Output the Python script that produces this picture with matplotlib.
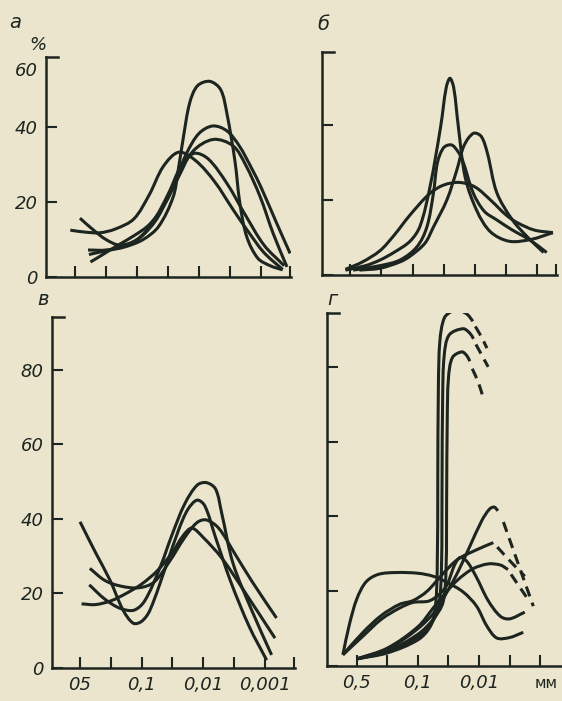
import numpy as np
import matplotlib
matplotlib.use("Agg")
import matplotlib.pyplot as plt
from matplotlib.path import Path
from matplotlib.patches import PathPatch

# ---------------- data (x = fraction index: 0.5,0.25,0.1,0.05,0.01,0.005,0.001 mm -> 0..6) -------------
A1 = [(-0.15,12.5),(0.3,12),(0.8,11.8),(1.3,12.8),(1.9,15.5),(2.4,22),(2.85,29.5),(3.35,33.3),(3.9,31),(4.5,25.5),(5.1,18),(5.6,12),(6.1,6.5),(6.7,2)]
A2 = [(0.16,15.7),(0.6,12.5),(1.0,10),(1.45,8.5),(2.0,10),(2.5,14.5),(3.0,22),(3.45,30),(3.85,33),(4.3,31.5),(4.9,25),(5.5,16.5),(6.1,8.5),(6.75,3)]
A3 = [(0.42,7.2),(1.0,7.2),(1.6,8.3),(2.1,10.5),(2.6,15),(2.96,20.5),(3.3,27),(3.6,33),(4.0,38.3),(4.45,40.3),(4.9,39),(5.3,35),(5.7,29),(6.0,24),(6.5,14.5),(6.94,6.3)]
A4 = [(0.5,4),(0.9,6),(1.35,8.3),(1.9,11),(2.4,14),(2.9,19.5),(3.3,26),(3.8,33.5),(4.46,36.7),(5.1,35),(5.5,30),(5.97,21.5),(6.4,11.5),(6.84,2.7)]
A5 = [(0.45,6),(1.0,7),(1.6,8),(2.2,10),(2.7,13.5),(3.17,21.4),(3.33,28.5),(3.5,37.4),(3.7,46.4),(3.95,51),(4.35,52.2),(4.7,50),(4.9,43.7),(5.16,31),(5.32,19.7),(5.54,10.8),(5.9,5),(6.3,3),(6.7,1.9)]

B1 = [(-0.15,1.3),(0.5,2.5),(0.96,4),(1.4,6),(1.92,9),(2.24,13),(2.56,23.5),(2.9,39.5),(3.08,50),(3.2,52.5),(3.32,50),(3.47,39.5),(3.69,26),(4.07,17),(4.5,11.5),(5.1,9),(5.8,9.5),(6.5,11.3)]
B2 = [(0.1,1.3),(0.96,2.5),(1.6,4),(2.14,7.5),(2.46,12.8),(2.67,21.8),(2.8,30),(3.0,34),(3.25,34.7),(3.45,33),(3.6,30.7),(3.95,21.8),(4.3,17),(4.7,14.7),(5.2,12),(5.77,9.3),(6.3,6)]
B3 = [(0.3,1.3),(0.96,1.8),(1.6,3.5),(1.92,5),(2.4,8.5),(2.67,12.8),(3.1,20),(3.42,28),(3.65,34.5),(3.95,37.8),(4.2,37),(4.4,32.5),(4.7,22),(5.2,14.7),(5.7,10),(6.2,6)]
B4 = [(-0.15,1.5),(0.4,3.5),(0.96,6.5),(1.4,10.5),(1.92,16),(2.56,21.8),(3.0,24),(3.5,24.7),(4.0,23.5),(4.5,20),(5.0,16),(5.35,14),(5.9,12),(6.5,11.3)]

V1 = [(0,39.2),(0.5,31),(0.97,23.6),(1.4,15.5),(1.73,12),(2.0,12.5),(2.27,15.5),(2.82,28),(3.2,37),(3.5,42.5),(3.8,45),(4.05,43.5),(4.4,35),(4.9,23),(5.5,11),(6.06,2.1)]
V2 = [(0.3,22.3),(0.8,18.5),(1.3,16),(1.75,15.5),(2.1,18),(2.6,27),(3.0,36),(3.4,44),(3.8,49),(4.1,49.7),(4.4,48),(4.6,41.5),(4.97,28),(5.6,15),(6.22,3.5)]
V3 = [(0.32,26.7),(0.8,23.5),(1.3,22),(1.9,21.5),(2.4,23),(2.9,28.5),(3.4,35),(3.8,39),(4.1,39.7),(4.5,37.5),(5.0,31),(5.6,23),(6.38,13.4)]
V4 = [(0.05,17.2),(0.5,17),(1.0,18),(1.5,20),(2.0,22.5),(2.5,26),(3.0,31),(3.35,35.5),(3.63,37.5),(4.0,35),(4.6,29.5),(5.3,21),(6.33,8)]

G_T1 = [(0,1.9),(1,3.5),(2,7),(2.4,10.5),(2.56,15),(2.63,25),(2.65,50),(2.67,75),(2.72,87),(2.86,93),(3.1,94.8),(3.38,95),(3.62,94),(3.8,92.2)]
G_T1_D = [(3.88,90.8),(4.08,88),(4.26,85)]
G_T2 = [(0,1.9),(1,3.8),(2,7.8),(2.45,11.5),(2.68,16),(2.77,26),(2.79,50),(2.81,72),(2.86,83),(3.02,88.5),(3.48,90.2),(3.7,89),(3.82,87.5)]
G_T2_D = [(3.9,86),(4.1,83),(4.3,80)]
G_T3 = [(0,1.9),(1,4),(2,8.5),(2.5,12.5),(2.82,17),(2.92,26),(2.94,45),(2.96,66),(3.0,77),(3.13,82.5),(3.44,84),(3.6,83),(3.7,81.5)]
G_T3_D = [(3.78,79.5),(3.97,76),(4.13,72)]
G_B1 = [(0,1.9),(1,4.5),(2,10),(2.6,15),(3.0,20.5),(3.3,25),(3.7,32),(4.1,39),(4.35,42),(4.5,42.5),(4.62,41.5)]
G_B1_D = [(4.8,38.5),(5.3,27),(5.78,16)]
G_B2 = [(0,1.9),(1,4.8),(2,10.5),(2.5,15.5),(2.9,19.5),(3.3,23),(3.8,26),(4.3,27.3),(4.7,27),(4.95,25.8)]
G_B2_D = [(5.05,24.5),(5.3,21.5),(5.55,18.5)]
G_P = [(-0.46,3),(-0.25,11),(0.0,18),(0.3,22.5),(0.7,24.5),(1.3,25),(2.0,24.8),(2.5,24),(2.94,22.4),(3.48,19.8),(3.92,16),(4.25,10.8),(4.58,7.5),(5.0,7.6),(5.45,9)]
G_L2 = [(-0.46,3),(0.2,9),(0.8,13.5),(1.4,16.5),(1.84,17.5),(2.3,20),(2.8,24.5),(3.3,28.5),(3.9,31),(4.47,33)]
G_L2_D = [(4.6,31.8),(5.05,27.8),(5.5,24)]
G_L3 = [(-0.46,3),(0.2,8),(0.8,12.5),(1.4,15.5),(1.84,17),(2.4,17.5),(2.9,21),(3.2,27),(3.38,29),(3.6,28),(3.9,24),(4.3,17.5),(4.7,13.3),(5.0,12.6),(5.5,14.4)]

Y_TICKS_AB = [0, 20, 40]
Y_TICKS_CD = [0, 20, 40, 60, 80]
X_TICKS = [0, 1, 2, 3, 4, 5, 6]
XLAB_V = ["05", "", "0,1", "", "0,01", "", "0,001"]
XLAB_G = ["0,5", "", "0,1", "", "0,01", "", ""]

# ---------------- style -------------
BG = "#ece5cd"
INK = "#1d2520"
W, H = 562, 701
fig = plt.figure(figsize=(W/100, H/100), dpi=100, facecolor=BG)
FONT = dict(family=["Liberation Sans Narrow", "DejaVu Sans"], style="italic", color=INK)

def make_ax(l, r, b, t, xlim, ylim):
    ax = fig.add_axes([l/W, 1-b/H, (r-l)/W, (b-t)/H])
    ax.set_facecolor("none")
    ax.set_xlim(*xlim); ax.set_ylim(*ylim)
    for s in ("top", "right"):
        ax.spines[s].set_visible(False)
    for s in ("left", "bottom"):
        ax.spines[s].set_linewidth(1.8); ax.spines[s].set_color(INK)
        ax.spines[s].set_capstyle("projecting")
    ax.tick_params(direction="in", length=8, width=1.5, colors=INK, labelsize=13, pad=6)
    ax.plot([0, 0.05], [1, 1], transform=ax.transAxes, color=INK, lw=1.8, clip_on=False, solid_capstyle="projecting")
    return ax

def smooth(ax, pts, dashed=False, lw=2.2):
    p = ax.transData.transform(np.asarray(pts, float))
    d = np.maximum(np.linalg.norm(np.diff(p, axis=0), axis=1), 1e-6)
    t = np.concatenate([[0], np.cumsum(d)])
    m = np.zeros_like(p)
    m[0] = (p[1]-p[0])/d[0]; m[-1] = (p[-1]-p[-2])/d[-1]
    for i in range(1, len(p)-1):
        m[i] = (p[i+1]-p[i-1])/(t[i+1]-t[i-1])
    verts = [p[0]]; codes = [Path.MOVETO]
    for i in range(len(p)-1):
        h = d[i]
        verts += [p[i]+m[i]*h/3, p[i+1]-m[i+1]*h/3, p[i+1]]
        codes += [Path.CURVE4]*3
    vd = ax.transData.inverted().transform(np.array(verts))
    patch = PathPatch(Path(vd, codes), fill=False, ec=INK, lw=lw,
                      ls=(0, (3.4, 2.2)) if dashed else "-", capstyle="butt", joinstyle="round")
    ax.add_patch(patch)

# panel а
axA = make_ax(46, 291, 277, 57, (-0.935, 6.97), (0, 58.7))
axA.set_xticks(X_TICKS + [6.95]); axA.set_xticklabels([])
axA.set_yticks(Y_TICKS_AB); axA.set_yticklabels([str(v) for v in Y_TICKS_AB], **FONT)
axA.text(-0.035, 55.0, "60", transform=axA.get_yaxis_transform(), ha="right", va="center", fontsize=13, **FONT)
for c in (A1, A2, A3, A4, A5):
    smooth(axA, c)

# panel б
axB = make_ax(322, 557, 275, 52, (-0.9, 6.63), (0, 59.5))
axB.set_xticks(X_TICKS + [6.6]); axB.set_xticklabels([])
axB.set_yticks(Y_TICKS_AB); axB.set_yticklabels([])
for c in (B1, B2, B3, B4):
    smooth(axB, c)

# panel в
axV = make_ax(52, 295, 668, 317, (-0.91, 6.98), (0, 94.1))
axV.set_xticks(X_TICKS + [6.95]); axV.set_xticklabels(XLAB_V + [""], **FONT)
axV.set_yticks(Y_TICKS_CD); axV.set_yticklabels([str(v) for v in Y_TICKS_CD], **FONT)
for c in (V1, V2, V3, V4):
    smooth(axV, c)

# panel г
axG = make_ax(327, 562, 666, 313, (-0.98, 6.72), (0, 94.4))
axG.set_xticks(X_TICKS); axG.set_xticklabels(XLAB_G, **FONT)
axG.set_yticks(Y_TICKS_CD); axG.set_yticklabels([])
axG.text(6.2, -0.05, "мм", transform=axG.get_xaxis_transform(), ha="center", va="center",
         fontsize=11, family=["DejaVu Sans"], color=INK)
for c in (G_T1, G_T2, G_T3, G_B1, G_B2, G_P, G_L2, G_L3):
    smooth(axG, c)
for c in (G_T1_D, G_T2_D, G_T3_D, G_B1_D, G_B2_D, G_L2_D):
    smooth(axG, c, dashed=True)

# panel letters
fig.text(15/W, 1-22/H, "а", fontsize=14, ha="center", va="center", **FONT)
fig.text(38/W, 1-45/H, "%", fontsize=13, ha="center", va="center", **FONT)
fig.text(323/W, 1-25/H, "б", fontsize=14, ha="center", va="center", **FONT)
fig.text(43/W, 1-300/H, "в", fontsize=14, ha="center", va="center", **FONT)
fig.text(332/W, 1-300/H, "г", fontsize=14, ha="center", va="center", **FONT)

fig.savefig("out.png", dpi=100, facecolor=BG)
